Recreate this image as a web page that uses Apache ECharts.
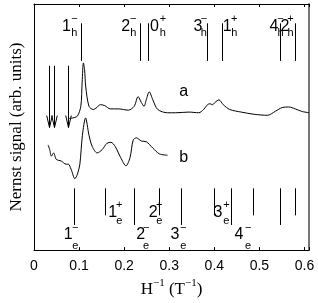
<!DOCTYPE html>
<html>
<head>
<meta charset="utf-8">
<script src="https://cdn.jsdelivr.net/npm/echarts@6/dist/echarts.min.js"></script>
<style>html,body{margin:0;padding:0;background:#fff}#c{width:318px;height:303px}</style>
</head>
<body>
<div id="c"></div>
<script>
// ---- data ----
const xTickValues = [0, 0.1, 0.2, 0.3, 0.4, 0.5, 0.6];

const aX = [0.0784,0.0893,0.0965,0.1039,0.1068,0.1096,0.1122,0.1148,0.122,0.1314,0.1373,0.1475,0.1569,0.1693,0.1874,0.2092,0.2222,0.2309,0.2381,0.244,0.249,0.2556,0.2636,0.2745,0.2963,0.3144,0.3436,0.3654,0.3763,0.3834,0.39,0.3959,0.4015,0.4102,0.4198,0.4342,0.4597,0.4887,0.5179,0.5359,0.5505,0.5649,0.5795,0.5941,0.61];
const aY = [136.3,137.3,139,149,174,194,187,169,149,145.7,147,150.7,149.7,146.3,146.3,145,149,159,153,149,155.7,164,155.7,145.7,142.3,142.3,143,142.3,145.7,150,151.7,150.7,153,155.7,150.7,145.7,143,140.7,139.7,144,147.7,148.3,146.3,143.7,142.3];

const bX = [0.0312,0.0349,0.0386,0.0436,0.0495,0.0603,0.0712,0.0763,0.0821,0.0908,0.0965,0.1017,0.1074,0.1144,0.122,0.1292,0.1401,0.151,0.1619,0.1706,0.1802,0.1924,0.2041,0.2129,0.22,0.2272,0.2381,0.249,0.2636,0.2782,0.2963];
const bY = [109,104,97.3,100.7,94,92.3,89,89,84,74,79,89,119,137,119,107.3,100.7,104,110.7,111.7,107.3,95.7,87.3,95.7,114,116.3,113,112.3,105.7,99.7,98.3];

const holeX = [0.1052,0.2346,0.2527,0.3834,0.4176,0.5453,0.578];
const holeN = ['1','2','0','3','1','4','2'];
const holeS = ['\u2212','\u2212','+','\u2212','+','\u2212','+'];

const elecX = [0.0893,0.1569,0.2222,0.2767,0.3268,0.4002,0.4379,0.4865,0.5453,0.5795];
const elecN = ['1','1','2','2','3','3','4','','',''];
const elecS = ['\u2212','+','\u2212','+','\u2212','+','\u2212','+','\u2212','+'];

const arrowX = [0.0327,0.0442,0.0747];
const arrowTop = 191, arrowTip = 127;

const curveNames = ['a','b'];
const curveLabelX = [0.332,0.332];
const curveLabelY = [164,96];

// ---- layout (pixel offsets, styles) ----
const holeLab = [[-15,-7],[-14,-6.5],[6.5,15],[-9,-3],[5,12],[-6,0.7],[-9.6,-4]];
const elecLab = [[-6,1],[8,14.5],[6.5,12],[-5.5,0.5],[-6.5,2],[3.5,12],[7.5,16.7],null,null,null];
const TOP_LINE = [235,196], BOT_LONG = [64,26], BOT_SHORT = [64,36];
const SANS = '"Liberation Sans", Arial, sans-serif';
const SERIF = '"Liberation Serif", "Times New Roman", serif';

function txt(x, y, t, size) {
  return {type:'text', x:x, y:y, style:{text:t, fill:'#000', font: size + 'px ' + SANS,
    align:'center', verticalAlign:'middle', textAlign:'center', textVerticalAlign:'middle'}};
}
function vline(x, y1, y2) {
  const px = Math.round(x) + 0.5;
  return {type:'line', shape:{x1:px, y1:y1, x2:px, y2:y2}, style:{stroke:'#000', lineWidth:1}};
}

const chart = echarts.init(document.getElementById('c'), null, {renderer:'canvas'});
chart.setOption({
  animation:false,
  backgroundColor:'#fff',
  grid:{left:29, right:9, top:4, bottom:44},
  xAxis:[{
    type:'value', min:0, max:0.61, interval:0.1, position:'bottom',
    axisLine:{onZero:false, lineStyle:{color:'#000', width:1}},
    axisTick:{inside:true, length:3, lineStyle:{color:'#000'}},
    axisLabel:{margin:9, fontSize:14, color:'#000', fontFamily:SANS,
      formatter:function(v){ for (const t of xTickValues) if (Math.abs(v-t)<1e-6) return String(t); return ''; }},
    splitLine:{show:false},
    name:'{m|H}{s|\u22121}{m| (T}{s|\u22121}{m|)}', nameLocation:'middle', nameGap:24,
    nameTextStyle:{color:'#000', rich:{
      m:{fontSize:17, fontFamily:SERIF, color:'#000', lineHeight:20, verticalAlign:'bottom'},
      s:{fontSize:11, fontFamily:SERIF, color:'#000', lineHeight:20, verticalAlign:'top'}
    }}
  },{
    type:'value', min:0, max:0.61, interval:0.1, position:'top',
    axisLine:{onZero:false, lineStyle:{color:'#000', width:1}},
    axisTick:{inside:true, length:3, lineStyle:{color:'#000'}},
    axisLabel:{show:false}, splitLine:{show:false}
  }],
  yAxis:[{
    type:'value', min:0, max:255, position:'left',
    axisLine:{show:true, onZero:false, lineStyle:{color:'#000', width:1}},
    axisTick:{show:false}, axisLabel:{show:false}, splitLine:{show:false},
    name:'Nernst signal (arb. units)', nameLocation:'middle', nameGap:9,
    nameTextStyle:{fontSize:17, color:'#000', fontFamily:SERIF}
  },{
    type:'value', min:0, max:255, position:'right',
    axisLine:{show:true, onZero:false, lineStyle:{color:'#777', width:2}},
    axisTick:{show:false}, axisLabel:{show:false}, splitLine:{show:false}
  }],
  series:[
    {type:'line', data:aX.map((x,i)=>[x,aY[i]]), showSymbol:false, smooth:0.3,
      lineStyle:{color:'#000', width:1}},
    {type:'line', data:bX.map((x,i)=>[x,bY[i]]), showSymbol:false, smooth:0.3,
      lineStyle:{color:'#000', width:1}},
    {type:'custom', data:holeX.map((x,i)=>[x,i]), renderItem:function(params, api){
      const i = params.dataIndex, x = api.value(0);
      const p1 = api.coord([x, TOP_LINE[0]]), p2 = api.coord([x, TOP_LINE[1]]);
      const top = api.coord([x, 255])[1];
      const L = holeLab[i];
      return {type:'group', children:[
        vline(p1[0], p1[1], p2[1]),
        txt(p1[0]+L[0], top+23, holeN[i], 16),
        txt(p1[0]+L[1], top+15, holeS[i], 11),
        txt(p1[0]+L[1], top+29, 'h', 11)
      ]};
    }},
    {type:'custom', data:elecX.map((x,i)=>[x,i]), renderItem:function(params, api){
      const i = params.dataIndex, x = api.value(0);
      const isLong = elecS[i] === '\u2212';
      const span = isLong ? BOT_LONG : BOT_SHORT;
      const p1 = api.coord([x, span[0]]), p2 = api.coord([x, span[1]]);
      const bot = api.coord([x, 0])[1];
      const children = [vline(p1[0], p1[1], p2[1])];
      const L = elecLab[i];
      if (L && elecN[i]) {
        const dy = isLong ? [-16,-22,-4] : [-38,-45,-29];
        children.push(txt(p1[0]+L[0], bot+dy[0], elecN[i], 16));
        children.push(txt(p1[0]+L[1], bot+dy[1], elecS[i], 11));
        children.push(txt(p1[0]+L[1], bot+dy[2], 'e', 11));
      }
      return {type:'group', children:children};
    }},
    {type:'custom', data:arrowX.map((x)=>[x]), renderItem:function(params, api){
      const x = api.value(0);
      const p1 = api.coord([x, arrowTop]), p2 = api.coord([x, arrowTip]);
      const px = Math.round(p1[0]) + 0.5;
      return {type:'group', children:[
        {type:'line', shape:{x1:px, y1:p1[1], x2:px, y2:p2[1]}, style:{stroke:'#000', lineWidth:1}},
        {type:'polyline', shape:{points:[[px-2.8,p2[1]-12],[px,p2[1]],[px+2.8,p2[1]-12]]},
          style:{stroke:'#000', lineWidth:1, fill:null}}
      ]};
    }},
    {type:'custom', data:curveLabelX.map((x,i)=>[x,curveLabelY[i]]), renderItem:function(params, api){
      const p = api.coord([api.value(0), api.value(1)]);
      return txt(p[0], p[1], curveNames[params.dataIndex], 16);
    }}
  ]
});
</script>
</body>
</html>
